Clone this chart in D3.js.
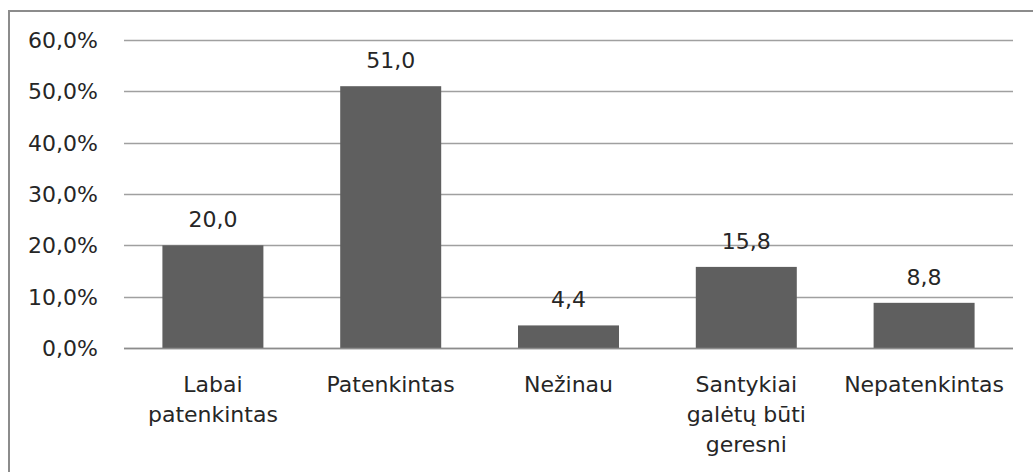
<!DOCTYPE html>
<html><head><meta charset="utf-8">
<script src="https://cdn.jsdelivr.net/npm/d3@7"></script>
<style>html,body{margin:0;padding:0;background:#fff;}svg{display:block;}</style>
</head><body>
<svg id="chart" width="1033" height="472"></svg>
<script>
const categories = [["Labai","patenkintas"],["Patenkintas"],["Nežinau"],["Santykiai","galėtų būti","geresni"],["Nepatenkintas"]];
const values = [20.0, 51.0, 4.4, 15.8, 8.8];
const valueLabels = ["20,0","51,0","4,4","15,8","8,8"];
const yTicks = [0,10,20,30,40,50,60];
const yTickLabels = ["0,0%","10,0%","20,0%","30,0%","40,0%","50,0%","60,0%"];

(function(){
const svg = d3.select("#chart");
const font = "DejaVu Sans, Verdana, sans-serif";
const fs = 22;

svg.append("rect").attr("x",9).attr("y",11).attr("width",1100).attr("height",600)
  .attr("fill","none").attr("stroke","#8c8c8c").attr("stroke-width",2);

const pL = 124, pR = 1013, pT = 40, pB = 348;
const y = d3.scaleLinear().domain([0,60]).range([pB, pT]);
const x = d3.scaleBand().domain(d3.range(values.length)).range([pL,pR])
  .paddingInner(0.432).paddingOuter(0.216);

svg.append("g").selectAll("line").data(yTicks).join("line")
  .attr("x1",pL).attr("x2",pR)
  .attr("y1",d=>Math.round(y(d))+0.5).attr("y2",d=>Math.round(y(d))+0.5)
  .attr("stroke","#a0a0a0").attr("stroke-width",1.5);

svg.append("g").selectAll("text").data(yTicks).join("text")
  .attr("x",98).attr("y",d=>y(d)).attr("dy","0.36em")
  .attr("text-anchor","end").attr("font-family",font).attr("font-size",fs)
  .attr("fill","#262626").text((d,i)=>yTickLabels[i]);

svg.append("g").selectAll("rect").data(values).join("rect")
  .attr("x",(d,i)=>x(i)).attr("width",x.bandwidth())
  .attr("y",d=>y(d)).attr("height",d=>pB-y(d))
  .attr("fill","#5f5f5f");

svg.append("line").attr("x1",pL).attr("x2",pR)
  .attr("y1",pB+0.5).attr("y2",pB+0.5)
  .attr("stroke","#8c8c8c").attr("stroke-width",1.5);

svg.append("g").selectAll("text").data(values).join("text")
  .attr("x",(d,i)=>x(i)+x.bandwidth()/2).attr("y",d=>y(d)-18)
  .attr("text-anchor","middle").attr("font-family",font).attr("font-size",fs)
  .attr("fill","#262626").text((d,i)=>valueLabels[i]);

const cg = svg.append("g").selectAll("text").data(categories).join("text")
  .attr("text-anchor","middle").attr("font-family",font).attr("font-size",fs)
  .attr("fill","#262626");
cg.each(function(lines,i){
  const t = d3.select(this);
  lines.forEach((ln,j)=>{
    t.append("tspan").attr("x",x(i)+x.bandwidth()/2).attr("y",392+j*30).text(ln);
  });
});
})();
</script>
</body></html>
